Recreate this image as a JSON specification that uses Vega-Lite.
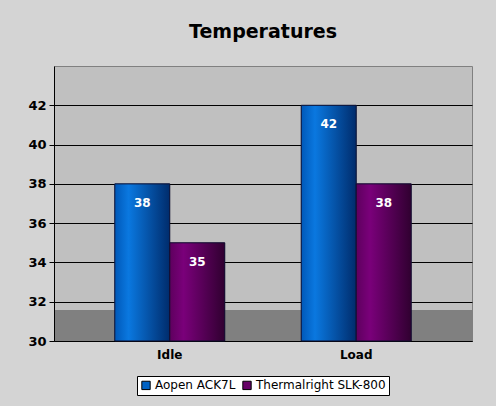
{
  "$schema": "https://vega.github.io/schema/vega-lite/v6.json",
  "width": 496,
  "height": 406,
  "autosize": {"type": "fit", "contains": "padding"},
  "padding": {"top": 23, "left": 27, "right": 24, "bottom": 10},
  "background": "#d4d4d4",
  "title": {
    "text": "Temperatures",
    "font": "DejaVu Sans",
    "fontSize": 19,
    "fontWeight": "bold",
    "color": "black",
    "offset": 24
  },
  "data": {
    "values": [
      {"state": "Idle", "cooler": "Aopen ACK7L", "temp": 38},
      {"state": "Idle", "cooler": "Thermalright SLK-800", "temp": 35},
      {"state": "Load", "cooler": "Aopen ACK7L", "temp": 42},
      {"state": "Load", "cooler": "Thermalright SLK-800", "temp": 38}
    ]
  },
  "encoding": {
    "x": {
      "field": "state",
      "type": "nominal",
      "scale": {"paddingInner": 0.41, "paddingOuter": 0.326},
      "axis": {
        "title": null,
        "labelAngle": 0,
        "labelFont": "DejaVu Sans",
        "labelFontSize": 12,
        "labelFontWeight": "bold",
        "labelColor": "black",
        "labelPadding": 8,
        "domainColor": "black",
        "ticks": false,
        "grid": false
      }
    },
    "xOffset": {
      "field": "cooler",
      "type": "nominal",
      "scale": {"paddingInner": 0, "paddingOuter": 0}
    },
    "y": {
      "field": "temp",
      "type": "quantitative",
      "scale": {"domain": [30, 44], "zero": false, "nice": false},
      "axis": {
        "title": null,
        "values": [30, 32, 34, 36, 38, 40, 42],
        "labelFont": "DejaVu Sans",
        "labelFontSize": 13,
        "labelFontWeight": "bold",
        "labelColor": "black",
        "labelPadding": 3,
        "domainColor": "black",
        "tickColor": "black",
        "tickSize": 5,
        "gridColor": "black",
        "gridOpacity": 1,
        "gridWidth": 1
      }
    }
  },
  "layer": [
    {
      "mark": {"type": "bar"},
      "encoding": {
        "y2": {"datum": 30},
        "color": {
          "field": "cooler",
          "type": "nominal",
          "scale": {
            "domain": ["Aopen ACK7L", "Thermalright SLK-800"],
            "range": ["#0062c4", "#660066"]
          },
          "legend": {
            "title": null,
            "orient": "bottom",
            "direction": "horizontal",
            "fillColor": "white",
            "strokeColor": "black",
            "padding": 3,
            "offset": 16,
            "columnPadding": 4,
            "symbolType": "square",
            "symbolSize": 70,
            "symbolStrokeColor": "black",
            "symbolStrokeWidth": 1,
            "labelFont": "DejaVu Sans",
            "labelFontSize": 12,
            "labelColor": "black",
            "labelOffset": 3
          }
        }
      }
    },
    {
      "mark": {"type": "bar", "stroke": "#101030", "strokeWidth": 1},
      "encoding": {
        "y2": {"datum": 30},
        "fill": {
          "condition": {
            "test": "datum.cooler == 'Aopen ACK7L'",
            "value": {
              "gradient": "linear",
              "x1": 0, "y1": 0, "x2": 1, "y2": 0,
              "stops": [
                {"offset": 0, "color": "#0058b8"},
                {"offset": 0.25, "color": "#0a78e0"},
                {"offset": 1, "color": "#002c6c"}
              ]
            }
          },
          "value": {
            "gradient": "linear",
            "x1": 0, "y1": 0, "x2": 1, "y2": 0,
            "stops": [
              {"offset": 0, "color": "#5e005e"},
              {"offset": 0.25, "color": "#7a007a"},
              {"offset": 1, "color": "#300030"}
            ]
          }
        }
      }
    },
    {
      "mark": {
        "type": "text",
        "baseline": "top",
        "dy": 14,
        "font": "DejaVu Sans",
        "fontSize": 12,
        "fontWeight": "bold",
        "color": "white"
      },
      "encoding": {
        "text": {"field": "temp", "type": "quantitative"}
      }
    }
  ],
  "config": {
    "legend": {
      "layout": {"bottom": {"anchor": "middle"}}
    },
    "view": {
      "stroke": "#808080",
      "fill": {
        "gradient": "linear",
        "x1": 0, "y1": 0, "x2": 0, "y2": 1,
        "stops": [
          {"offset": 0, "color": "#c0c0c0"},
          {"offset": 0.885, "color": "#c0c0c0"},
          {"offset": 0.885, "color": "#808080"},
          {"offset": 1, "color": "#808080"}
        ]
      }
    }
  }
}
